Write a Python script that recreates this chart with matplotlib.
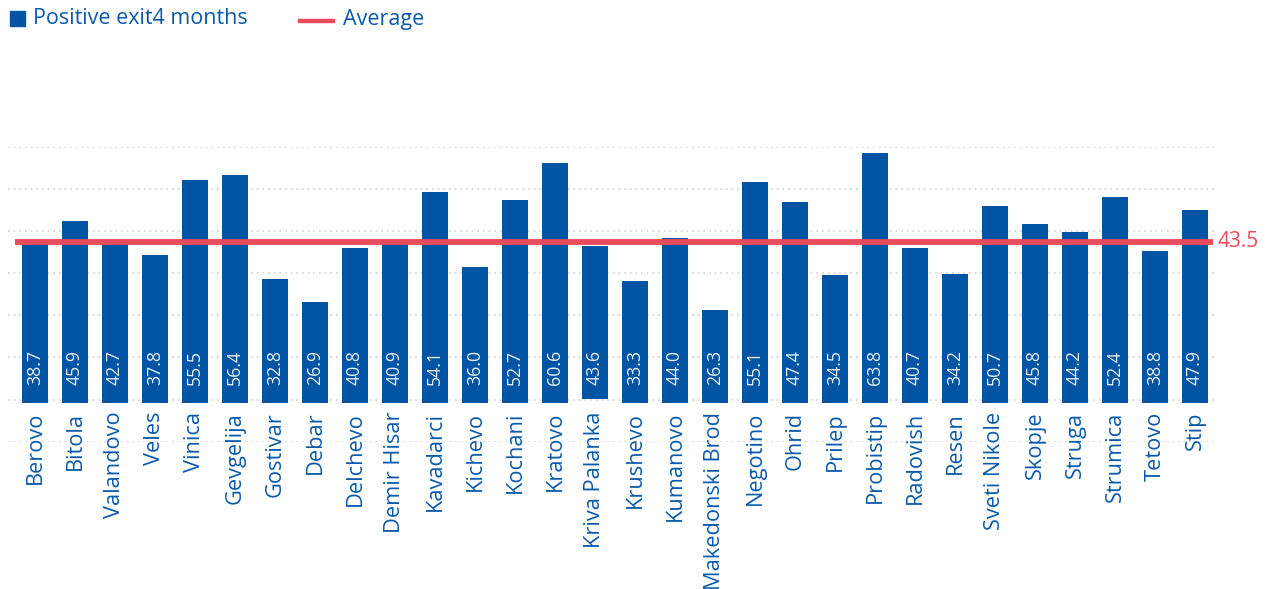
import matplotlib.pyplot as plt
from matplotlib.patches import Rectangle
from matplotlib.lines import Line2D

plt.rcParams['font.family'] = ['Open Sans', 'DejaVu Sans']

towns = ['Berovo', 'Bitola', 'Valandovo', 'Veles', 'Vinica', 'Gevgelija', 'Gostivar',
         'Debar', 'Delchevo', 'Demir Hisar', 'Kavadarci', 'Kichevo', 'Kochani', 'Kratovo',
         'Kriva Palanka', 'Krushevo', 'Kumanovo', 'Makedonski Brod', 'Negotino', 'Ohrid',
         'Prilep', 'Probistip', 'Radovish', 'Resen', 'Sveti Nikole', 'Skopje', 'Struga',
         'Strumica', 'Tetovo', 'Stip']

# bar tops as drawn in the picture (axis units, gridlines every 10)
bar_tops = [47.4, 52.4, 47.4, 44.3, 62.1, 63.3, 38.6, 33.2, 46.0, 46.9,
            59.3, 41.5, 57.4, 66.1, 46.4, 38.1, 48.3, 31.3, 61.6, 56.9,
            39.6, 68.5, 46.0, 39.8, 55.9, 51.7, 49.8, 58.1, 45.3, 55.0]
bar_bases = [9.25] * 14 + [10.05] + [9.25] * 15

# labels printed on the bars
bar_labels = ['38.7', '45.9', '42.7', '37.8', '55.5', '56.4', '32.8', '26.9', '40.8', '40.9',
              '54.1', '36.0', '52.7', '60.6', '43.6', '33.3', '44.0', '26.3', '55.1', '47.4',
              '34.5', '63.8', '40.7', '34.2', '50.7', '45.8', '44.2', '52.4', '38.8', '47.9']

average_level = 47.45
average_label = '43.5'

BLUE = '#0054a4'
TEXT_BLUE = '#0a5aab'
RED = '#e84c5c'

W, H = 1272, 589
fig = plt.figure(figsize=(W / 100, H / 100), dpi=100)
ax = fig.add_axes([8 / W, (H - 441.7) / H, 1209 / W, 295 / H])

x = list(range(len(towns)))
heights = [t - b for t, b in zip(bar_tops, bar_bases)]
ax.bar(x, heights, bottom=bar_bases, width=0.65, color=BLUE, zorder=2)

for i, lab in enumerate(bar_labels):
    ax.text(i, 13.4, lab, rotation=90, ha='center', va='bottom',
            color='#e8eef6', fontsize=12.8, zorder=3)
    ax.text(i, 7.1, towns[i], rotation=90, ha='center', va='top',
            color=TEXT_BLUE, fontsize=15.7, clip_on=False, zorder=3)

ax.hlines(average_level, -0.5, len(towns) - 0.55, color=RED, linewidth=4.2, zorder=4)
ax.text(len(towns) - 0.45, average_level, average_label, color=RED, fontsize=15,
        ha='left', va='center')

ax.set_xlim(-0.675, len(towns) - 0.45)
ax.set_ylim(0, 70)
ax.set_yticks(range(0, 71, 10))
ax.yaxis.grid(True, color='#cfcfcf', linestyle=(0, (1.2, 2.5)), linewidth=1.1, zorder=0)
ax.tick_params(left=False, bottom=False, labelleft=False, labelbottom=False)
ax.set_xticks([])
for s in ax.spines.values():
    s.set_visible(False)

# legend, drawn by hand in figure pixels
fig.add_artist(Rectangle((10 / W, (H - 26) / H), 15 / W, 15 / H, color=BLUE,
                         transform=fig.transFigure))
fig.text(33 / W, (H - 19) / H, 'Positive exit4 months', color=TEXT_BLUE,
         fontsize=15.5, ha='left', va='center')
fig.add_artist(Line2D([300 / W, 333 / W], [(H - 21) / H] * 2, color=RED,
                      linewidth=3.2, transform=fig.transFigure))
fig.text(343 / W, (H - 19) / H, 'Average', color=TEXT_BLUE,
         fontsize=15.5, ha='left', va='center')

fig.savefig('out.png', dpi=100)
